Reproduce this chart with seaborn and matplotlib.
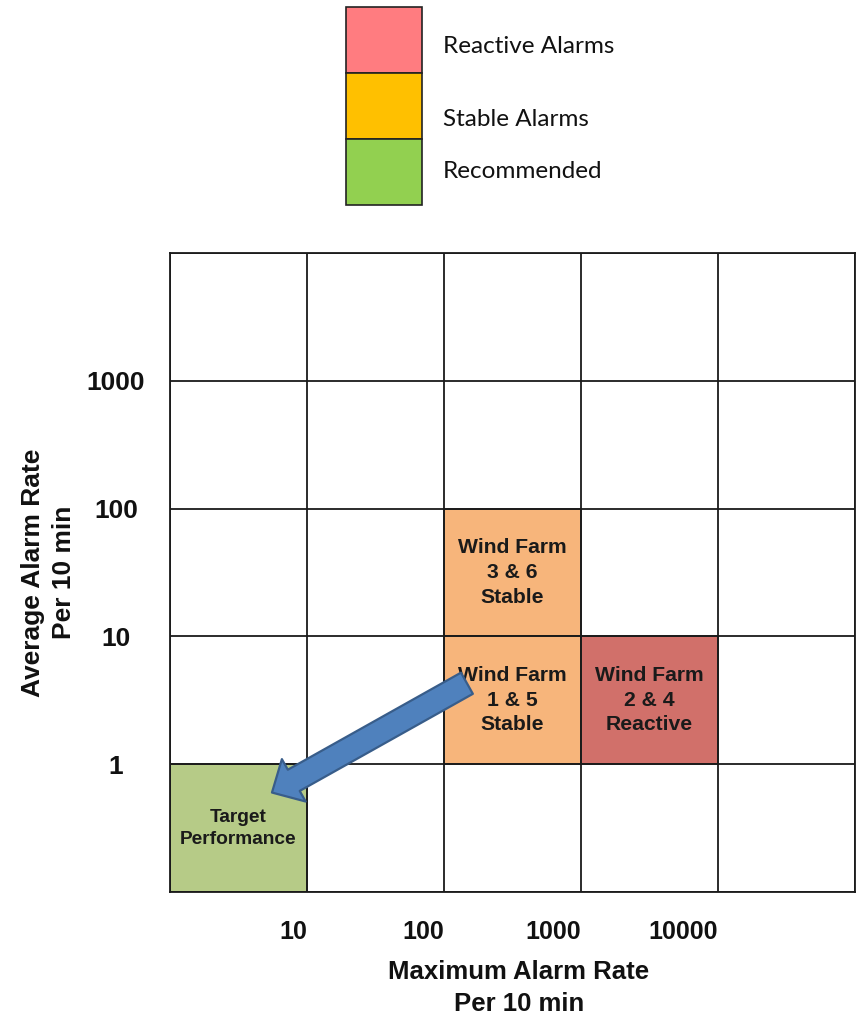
import matplotlib
matplotlib.use("Agg")
import matplotlib.pyplot as plt
import seaborn as sns

# --------------------------------------------------
# Data
# --------------------------------------------------
x_edges = [1, 10, 100, 1000, 10000, 100000]
y_edges = [0.1, 1, 10, 100, 1000, 10000]
x_tick_labels = ["", "10", "100", "1000", "10000", ""]
y_tick_labels = ["", "1", "10", "100", "1000", ""]

cell_x0 = [1, 100, 100, 1000]
cell_x1 = [10, 1000, 1000, 10000]
cell_y0 = [0.1, 10, 1, 1]
cell_y1 = [1, 100, 10, 10]
cell_labels = [
    "Target\nPerformance",
    "Wind Farm\n3 & 6\nStable",
    "Wind Farm\n1 & 5\nStable",
    "Wind Farm\n2 & 4\nReactive",
]
cell_colors = ["#B6CB87", "#F7B57B", "#F7B57B", "#D1706A"]
cell_font = [13.8, 15.2, 15.2, 15.2]

arrow_from = (147, 4.3)
arrow_to = (5.55, 0.6)

legend_labels = ["Reactive Alarms", "Stable Alarms", "Recommended"]
legend_colors = ["#FF7C80", "#FFC000", "#92D050"]

# --------------------------------------------------
# Style / layout
# --------------------------------------------------
sns.set_theme(style="white")
plt.rcParams["font.family"] = ["Liberation Sans", "DejaVu Sans"]

W, H = 859, 1014


def px_rect(left, top, right, bottom):
    return [left / W, 1 - bottom / H, (right - left) / W, (bottom - top) / H]


fig = plt.figure(figsize=(W / 100, H / 100), dpi=100)

# --------------------------------------------------
# Main grid chart
# --------------------------------------------------
ax = fig.add_axes(px_rect(170, 253, 855, 892))
ax.set_xscale("log")
ax.set_yscale("log")

widths = [b - a for a, b in zip(cell_x0, cell_x1)]
heights = [b - a for a, b in zip(cell_y0, cell_y1)]
ax.bar(cell_x0, heights, width=widths, bottom=cell_y0, align="edge",
       color=cell_colors, edgecolor="#222222", linewidth=1.2, zorder=1)

for x0, x1, y0, y1, lab, fs in zip(cell_x0, cell_x1, cell_y0, cell_y1,
                                    cell_labels, cell_font):
    ax.text((x0 * x1) ** 0.5, (y0 * y1) ** 0.5, lab, ha="center", va="center",
            fontsize=fs, fontweight="bold", color="#1a1a1a", zorder=3,
            linespacing=1.38)

ax.annotate("", xy=arrow_to, xytext=arrow_from,
            arrowprops=dict(arrowstyle="simple,head_length=1.8,head_width=3.5,tail_width=1.75",
                            fc="#4F81BD", ec="#385D8A", lw=1.6,
                            shrinkA=0, shrinkB=0, mutation_scale=10),
            zorder=4)

ax.set_xlim(x_edges[0], x_edges[-1])
ax.set_ylim(y_edges[0], y_edges[-1])
ax.minorticks_off()
ax.set_xticks(x_edges)
ax.set_yticks(y_edges)
ax.set_xticklabels(x_tick_labels, fontsize=18, fontweight="bold", ha="right")
ax.set_yticklabels(y_tick_labels, fontsize=19, fontweight="bold", ha="center")
ax.tick_params(axis="x", length=0, pad=20, colors="#111111")
ax.tick_params(axis="y", length=0, pad=39, colors="#111111")
ax.grid(True, which="major", color="#1a1a1a", linewidth=1.3)
ax.set_axisbelow(False)
for sp in ax.spines.values():
    sp.set_color("#1a1a1a")
    sp.set_linewidth(1.3)

ax.set_xlabel("Maximum Alarm Rate\nPer 10 min", fontsize=18.5,
              fontweight="bold", color="#111111", va="top", linespacing=1.42)
ax.xaxis.set_label_coords(0.5095, -0.106)
ax.set_ylabel("Average Alarm Rate\nPer 10 min", fontsize=19,
              fontweight="bold", color="#111111", linespacing=1.38)
ax.yaxis.set_label_coords(-0.137, 0.5)

# --------------------------------------------------
# Colour key at the top
# --------------------------------------------------
lax = fig.add_axes(px_rect(346, 7, 422, 205))
lax.bar([0, 0, 0], [1, 1, 1], width=1, bottom=[2, 1, 0], align="edge",
        color=legend_colors, edgecolor="#222222", linewidth=1.2, clip_on=False)
lax.set_xlim(0, 1)
lax.set_ylim(0, 3)
lax.axis("off")
for lab, ty in zip(legend_labels, [2.40, 1.30, 0.5]):
    lax.text(1.276, ty, lab, ha="left", va="center", fontsize=17.5,
             family=["Lato", "DejaVu Sans"], color="#111111", clip_on=False)

fig.savefig("out.png", dpi=100)
